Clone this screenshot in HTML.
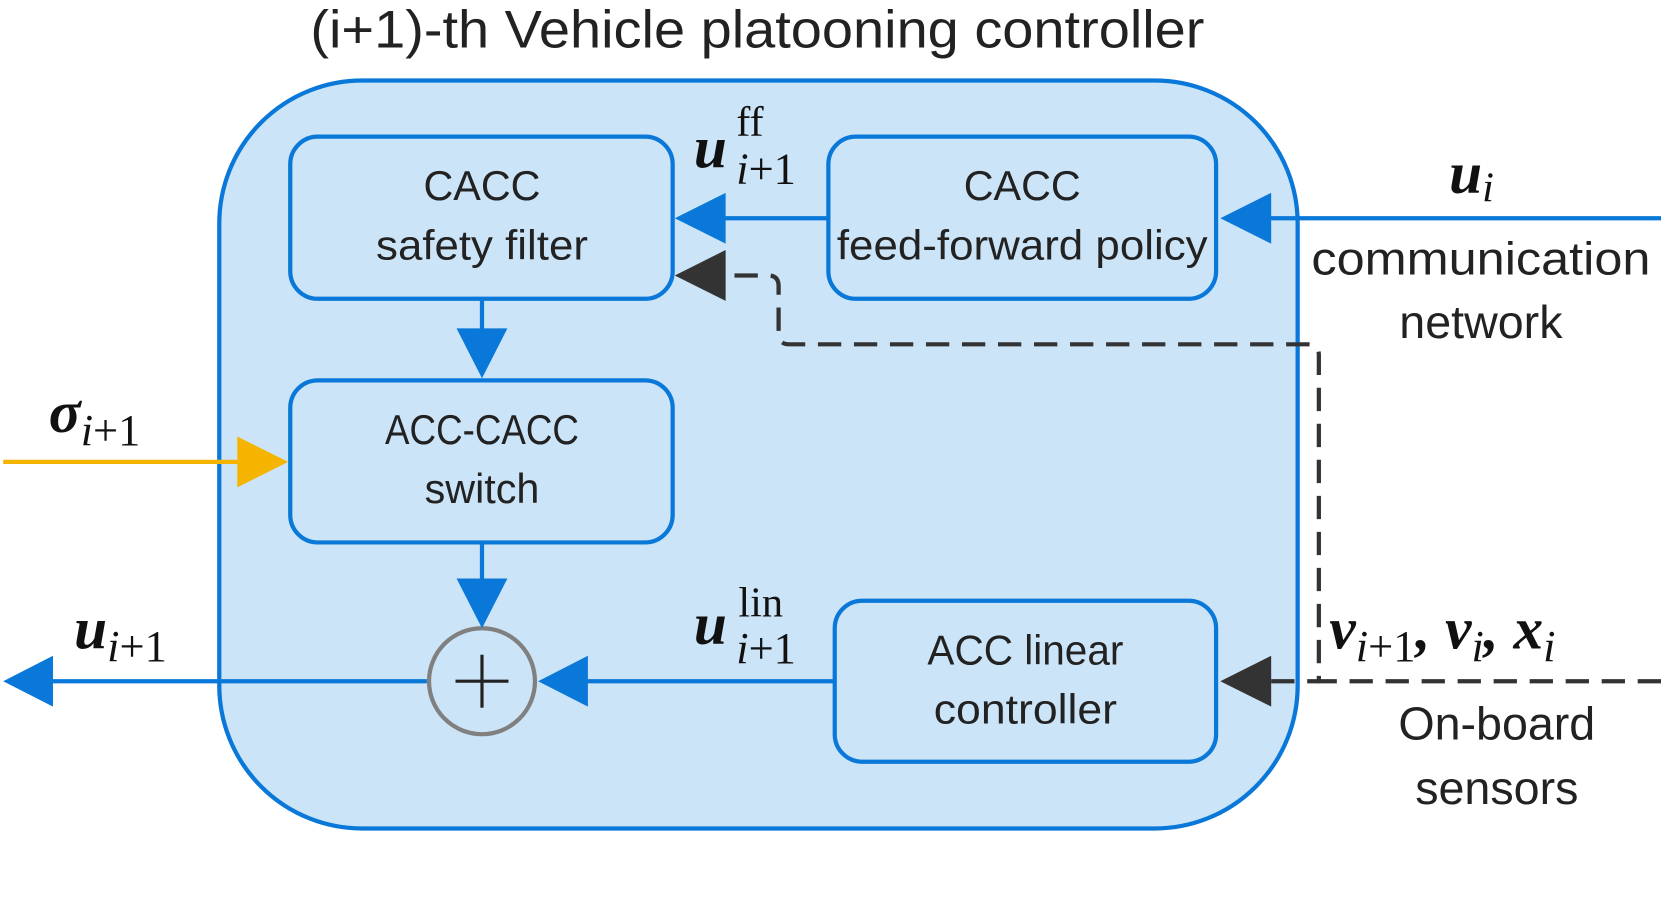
<!DOCTYPE html>
<html><head><style>html,body{margin:0;padding:0;background:#fff}svg{display:block}</style></head>
<body>
<svg width="1661" height="909" viewBox="0 0 1568 858" preserveAspectRatio="none" xmlns="http://www.w3.org/2000/svg">
<g font-family="Liberation Sans, DejaVu Sans, sans-serif" fill="#222">
<text x="715" y="45" font-size="50" text-anchor="middle" textLength="844" lengthAdjust="spacingAndGlyphs">(i+1)-th Vehicle platooning controller</text>
</g>
<rect x="207" y="76" width="1018" height="706" rx="135" fill="#cce4f7" stroke="#0a78d8" stroke-width="4"/>
<g fill="#cce4f7" stroke="#0a78d8" stroke-width="4">
<rect x="274" y="129" width="361" height="153" rx="26"/>
<rect x="782" y="129" width="366" height="153" rx="26"/>
<rect x="274" y="359" width="361" height="153" rx="26"/>
<rect x="788" y="567" width="360" height="152" rx="26"/>
</g>
<circle cx="455" cy="643" r="50" fill="none" stroke="#808080" stroke-width="4"/>
<g stroke="#222" stroke-width="3"><line x1="430" y1="643" x2="480" y2="643"/><line x1="455" y1="618" x2="455" y2="668"/></g>
<g font-family="Liberation Sans, DejaVu Sans, sans-serif" font-size="39" fill="#222" text-anchor="middle">
<text x="455" y="189">CACC</text><text x="455" y="245" textLength="200" lengthAdjust="spacingAndGlyphs">safety filter</text>
<text x="965" y="189">CACC</text><text x="965" y="245" textLength="350" lengthAdjust="spacingAndGlyphs">feed-forward policy</text>
<text x="455" y="419" textLength="183" lengthAdjust="spacingAndGlyphs">ACC-CACC</text><text x="455" y="475">switch</text>
<text x="968" y="627" textLength="185" lengthAdjust="spacingAndGlyphs">ACC linear</text><text x="968" y="683" textLength="173" lengthAdjust="spacingAndGlyphs">controller</text>
<text x="1398" y="259" font-size="44" textLength="320" lengthAdjust="spacingAndGlyphs">communication</text>
<text x="1398" y="319" font-size="44">network</text>
<text x="1413" y="698" font-size="44">On-board</text>
<text x="1413" y="759" font-size="44">sensors</text>
</g>
<g stroke="#0a78d8" stroke-width="4" fill="none">
<line x1="1568" y1="206" x2="1195" y2="206"/>
<line x1="782" y1="206" x2="680" y2="206"/>
<line x1="455" y1="282" x2="455" y2="315"/>
<line x1="455" y1="512" x2="455" y2="550"/>
<line x1="788" y1="643" x2="550" y2="643"/>
<line x1="403" y1="643" x2="45" y2="643"/>
</g>
<line x1="3" y1="436" x2="228" y2="436" stroke="#f5b400" stroke-width="4"/>
<g fill="#0a78d8">
<polygon points="1152,206 1200,182 1200,230"/>
<polygon points="637,206 685,182 685,230"/>
<polygon points="455,357 431,310 479,310"/>
<polygon points="455,593 431,546 479,546"/>
<polygon points="508,643 555,619 555,667"/>
<polygon points="3,643 50,619 50,667"/>
</g>
<polygon points="272,436 224,412 224,460" fill="#f5b400"/>
<path d="M1568,643 H1245 V335 Q1245,325 1235,325 H745 Q735,325 735,315 V270 Q735,260 725,260 H690" fill="none" stroke="#333" stroke-width="4" stroke-dasharray="22,12"/>
<line x1="1200" y1="643" x2="1245" y2="643" stroke="#333" stroke-width="4" stroke-dasharray="22,12"/>
<polygon points="1152,643 1200,619 1200,667" fill="#333"/>
<polygon points="637,260 685,236 685,284" fill="#333"/>
<g font-family="Liberation Serif, DejaVu Serif, serif" font-style="italic" font-weight="bold" fill="#111">
<text x="1368" y="182" font-size="56">u<tspan font-size="40" font-weight="normal" dy="8">i</tspan></text>
<text x="46" y="408" font-size="56">σ<tspan font-size="42" font-weight="normal" dy="12">i</tspan><tspan font-size="42" font-weight="normal" font-style="normal">+1</tspan></text>
<text x="70" y="612" font-size="56">u<tspan font-size="42" font-weight="normal" dy="12">i</tspan><tspan font-size="42" font-weight="normal" font-style="normal">+1</tspan></text>
<text x="655" y="158" font-size="56">u</text>
<text x="695" y="128" font-size="40" font-weight="normal" font-style="normal">ff</text>
<text x="695" y="173" font-size="42" font-weight="normal">i<tspan font-style="normal">+1</tspan></text>
<text x="655" y="608" font-size="56">u</text>
<text x="697" y="582" font-size="40" font-weight="normal" font-style="normal">lin</text>
<text x="695" y="626" font-size="42" font-weight="normal">i<tspan font-style="normal">+1</tspan></text>
<text x="1255" y="612" font-size="56">v<tspan font-size="42" font-weight="normal" dy="12">i</tspan><tspan font-size="42" font-weight="normal" font-style="normal">+1</tspan><tspan dy="-12">, v</tspan><tspan font-size="42" font-weight="normal" dy="12">i</tspan><tspan dy="-12">, x</tspan><tspan font-size="42" font-weight="normal" dy="12">i</tspan></text>
</g>
</svg>
</body></html>
